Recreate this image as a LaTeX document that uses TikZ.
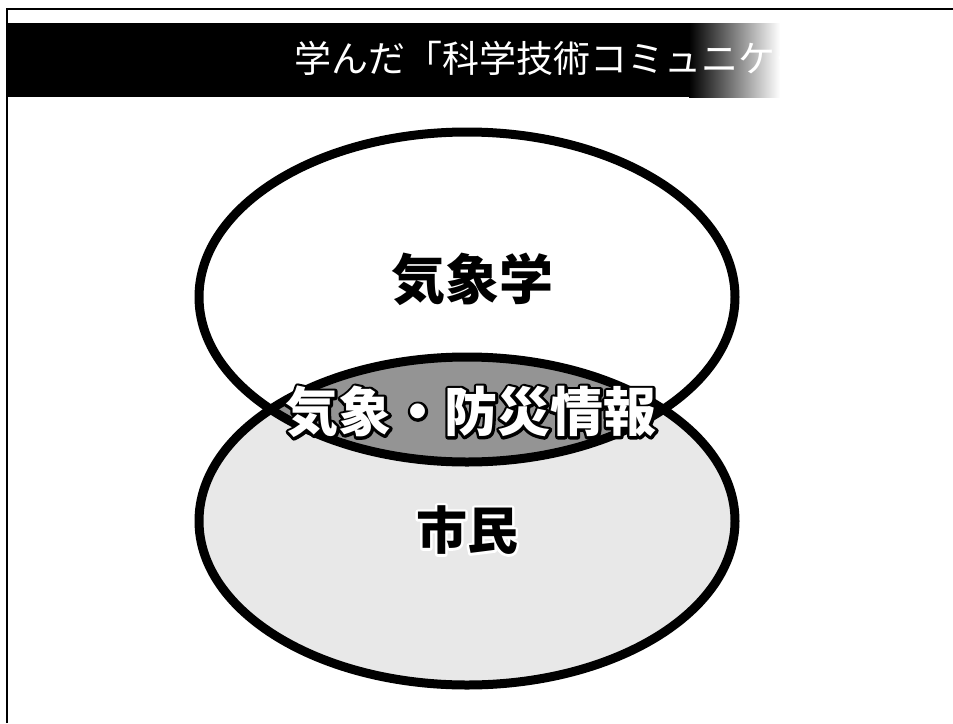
\documentclass[tikz,border=0pt]{standalone}
\usepackage{fontspec}
\newfontfamily\jp{Noto Sans CJK JP}
\newcommand\outlinedtext[4]{% #1 outline colour, #2 fill colour, #3 width, #4 text
  \leavevmode\rlap{\color{#1}\special{pdf:literal direct 1 j #3 w 1 Tr}#4\special{pdf:literal direct 0 Tr}}{\color{#2}#4}}
\tikzset{
  ring/.style={line width=9pt, draw=black},
  bigtext/.style={inner sep=0pt, font=\jp\bfseries\fontsize{53}{53}\selectfont},
  titletext/.style={inner sep=0pt, anchor=west, text=white, font=\jp\fontsize{37}{37}\selectfont}
}
\begin{document}
\begin{tikzpicture}[x=1pt,y=-1pt]
\useasboundingbox (0,0) rectangle (953,723);
\fill[white] (0,0) rectangle (953,723);
% frame
\draw[line width=1.6pt] (7,723) -- (7,9) -- (953,9);
% header bar
\fill[black] (7,23) rectangle (690,97);
\shade[left color=black, right color=white] (689,23) rectangle (780,97);
\node[titletext] (title) at (294,58) {学んだ「科学技術コミュニケー};
% ellipses
\fill[black!9] (467,521) ellipse [x radius=268, y radius=164];
\begin{scope}
  \clip (467,297) ellipse [x radius=268, y radius=165];
  \fill[black!42] (467,521) ellipse [x radius=268, y radius=164];
\end{scope}
\draw[ring] (467,297) ellipse [x radius=268, y radius=165];
\draw[ring] (467,521) ellipse [x radius=268, y radius=164];
% labels
\node[bigtext, font=\jp\bfseries\fontsize{54}{54}\selectfont] (met) at (472,279) {気象学};
\node[bigtext] (info) at (471,412) {\outlinedtext{black}{white}{5.5}{気象・防災情報}};
\node[bigtext, font=\jp\bfseries\fontsize{51}{51}\selectfont] (cit) at (467,530) {\outlinedtext{white}{black}{5}{市民}};
\end{tikzpicture}
\end{document}
